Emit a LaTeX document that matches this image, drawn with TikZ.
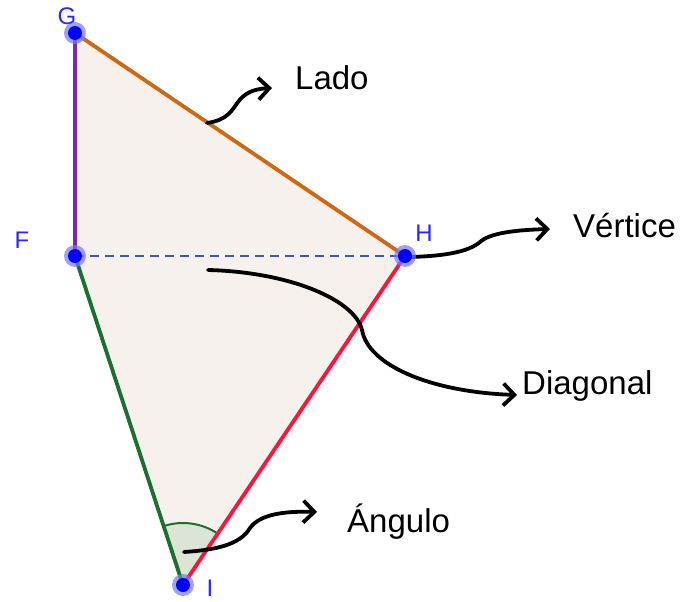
\documentclass[tikz,border=0pt]{standalone}
\usepackage{fontspec}
\setmainfont{Liberation Sans}
\usetikzlibrary{arrows.meta}
\definecolor{fillc}{RGB}{247,241,238}
\definecolor{anglefill}{RGB}{220,228,214}
\definecolor{purp}{RGB}{125,40,170}
\definecolor{orng}{RGB}{205,105,20}
\definecolor{grn}{RGB}{30,110,50}
\definecolor{redc}{RGB}{255,20,60}
\definecolor{dashc}{RGB}{60,90,170}
\definecolor{ptc}{RGB}{0,0,255}
\definecolor{haloc}{RGB}{120,120,255}
\definecolor{lblc}{RGB}{40,40,255}
\tikzset{
  side/.style={line width=3.8pt},
  pt/.style={circle,fill=ptc,inner sep=0pt,minimum size=14pt},
  halo/.style={circle,fill=haloc,opacity=0.7,inner sep=0pt,minimum size=22pt},
  ptlabel/.style={text=lblc,font=\fontsize{24}{24}\selectfont,inner sep=0pt},
  callout/.style={font=\fontsize{33}{33}\selectfont,inner sep=0pt,anchor=base west},
  pointer/.style={line width=3.8pt,line cap=round,-{Straight Barb[length=11pt,width=22pt,line width=3.8pt]}}
}
\begin{document}
\begin{tikzpicture}[x=1pt,y=-1pt]
\useasboundingbox (0,0) rectangle (688,602);
% vertices
\coordinate (G) at (75,33);
\coordinate (F) at (75,256);
\coordinate (H) at (405,256);
\coordinate (I) at (183,585);
% polygon fill
\fill[fillc] (G) -- (H) -- (I) -- (F) -- cycle;
% angle at I
\fill[anglefill] (I) -- ++(-108.2:62) arc[start angle=-108.2,end angle=-56,radius=62] -- cycle;
\draw[grn,line width=2pt] (I) ++(-108.2:62) arc[start angle=-108.2,end angle=-56,radius=62];
% sides
\draw[side,purp] (F) -- (G);
\draw[side,orng] (G) -- (H);
\draw[side,redc] (H) -- (I);
\draw[side,grn] (I) -- (F);
\draw[dashc,line width=2.8pt,dash pattern=on 9pt off 6pt] (F) -- (H);
% texts
\node[callout] (lado) at (295,89) {Lado};
\node[callout] (vert) at (573,237) {Vértice};
\node[callout] (diag) at (522,394) {Diagonal};
\node[callout] (ang) at (347,532) {Ángulo};
% pointers
\coordinate (ladoS) at (207,123);
\coordinate (ladoE) at (272,88);
\draw[pointer] (ladoS) .. controls (228,120) and (232,110) .. (238,102)
  .. controls (244,94) and (252,89) .. (ladoE);
\coordinate (vertS) at (410,257);
\coordinate (vertE) at (550,229);
\draw[pointer] (vertS) .. controls (445,256) and (468,252) .. (480,242)
  .. controls (490,233) and (515,230) .. (vertE);
\coordinate (diagS) at (208,270);
\coordinate (diagE) at (517,395);
\draw[pointer] (diagS) .. controls (290,272) and (355,300) .. (362,330)
  .. controls (368,365) and (430,392) .. (diagE);
\coordinate (angS) at (184,552);
\coordinate (angE) at (317,512);
\draw[pointer] (angS) .. controls (215,550) and (240,545) .. (250,528)
  .. controls (260,514) and (285,511) .. (angE);
% points
\foreach \p in {G,F,H,I} {
  \node[halo] at (\p) {};
  \node[pt] (pt\p) at (\p) {};
}
% point labels
\node[ptlabel] (lG) at (67,16) {G};
\node[ptlabel] (lF) at (22,240) {F};
\node[ptlabel] (lH) at (424,233) {H};
\node[ptlabel] (lI) at (210,588) {I};
\end{tikzpicture}
\end{document}
